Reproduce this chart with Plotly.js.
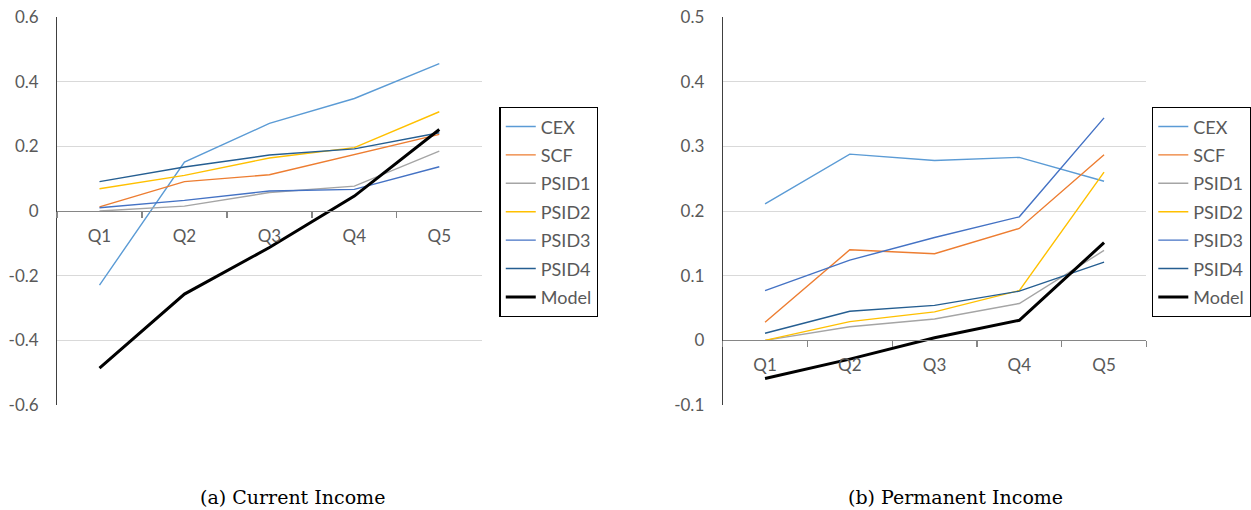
<!DOCTYPE html>
<html>
<head>
<meta charset="utf-8">
<script src="https://cdn.plot.ly/plotly-3.0.1.min.js"></script>
<style>html,body{margin:0;padding:0;background:#fff;}#chart{width:1251px;height:510px;}</style>
</head>
<body>
<div id="chart"></div>
<script>
var categories = ["Q1", "Q2", "Q3", "Q4", "Q5"];
var seriesNames = ["CEX", "SCF", "PSID1", "PSID2", "PSID3", "PSID4", "Model"];

// (a) Current Income
var curCEX   = [-0.229, 0.151, 0.271, 0.348, 0.456];
var curSCF   = [0.013, 0.091, 0.112, 0.174, 0.237];
var curPSID1 = [0.000, 0.015, 0.057, 0.077, 0.185];
var curPSID2 = [0.069, 0.110, 0.164, 0.196, 0.307];
var curPSID3 = [0.010, 0.033, 0.062, 0.067, 0.137];
var curPSID4 = [0.091, 0.136, 0.173, 0.192, 0.242];
var curModel = [-0.486, -0.257, -0.113, 0.046, 0.252];

// (b) Permanent Income
var permCEX   = [0.211, 0.288, 0.278, 0.283, 0.246];
var permSCF   = [0.028, 0.140, 0.134, 0.173, 0.287];
var permPSID1 = [0.000, 0.021, 0.033, 0.057, 0.139];
var permPSID2 = [0.000, 0.029, 0.044, 0.077, 0.260];
var permPSID3 = [0.077, 0.124, 0.159, 0.191, 0.344];
var permPSID4 = [0.011, 0.045, 0.054, 0.076, 0.121];
var permModel = [-0.059, -0.029, 0.004, 0.031, 0.151];

var leftTickVals = [-0.6, -0.4, -0.2, 0, 0.2, 0.4, 0.6];
var leftTickText = ["-0.6", "-0.4", "-0.2", "0", "0.2", "0.4", "0.6"];
var rightTickVals = [-0.1, 0, 0.1, 0.2, 0.3, 0.4, 0.5];
var rightTickText = ["-0.1", "0", "0.1", "0.2", "0.3", "0.4", "0.5"];

var captions = ["(a) Current Income", "(b) Permanent Income"];

var colors = ["#5B9BD5", "#ED7D31", "#A5A5A5", "#FFC000", "#4472C4", "#255E91", "#000000"];
var widths = [1.4, 1.4, 1.4, 1.4, 1.4, 1.4, 3];

var curData = [curCEX, curSCF, curPSID1, curPSID2, curPSID3, curPSID4, curModel];
var permData = [permCEX, permSCF, permPSID1, permPSID2, permPSID3, permPSID4, permModel];

var traces = [];
curData.forEach(function (vals, i) {
  traces.push({
    type: "scatter", mode: "lines", x: categories, y: vals, name: seriesNames[i],
    xaxis: "x", yaxis: "y", legend: "legend", legendgroup: "a" + i,
    line: {color: colors[i], width: widths[i]}
  });
});
permData.forEach(function (vals, i) {
  traces.push({
    type: "scatter", mode: "lines", x: categories, y: vals, name: seriesNames[i],
    xaxis: "x2", yaxis: "y2", legend: "legend2", legendgroup: "b" + i,
    line: {color: colors[i], width: widths[i]}
  });
});

var W = 1251, H = 510;
var yBot = (H - 405) / H, yTop = (H - 17) / H;
var tickFont = {family: "Lato, 'Open Sans', sans-serif", size: 17, color: "#595959"};

function yAxis(range, vals, text) {
  return {
    domain: [yBot, yTop], range: range, tickvals: vals, ticktext: text,
    showgrid: true, gridcolor: "#d9d9d9", gridwidth: 1,
    zeroline: false, showline: true, linecolor: "#404040", linewidth: 1,
    ticks: "", tickfont: tickFont, ticklabelstandoff: 14, fixedrange: true
  };
}
function catAxis(dom, pos) {
  return {
    domain: dom, type: "category", range: [-0.5, 4.5], anchor: "free", position: pos,
    showline: true, linecolor: "#868686", linewidth: 1.3,
    ticks: "outside", tickson: "boundaries", ticklen: 6, tickcolor: "#868686", tickwidth: 1.3,
    showgrid: false, zeroline: false, tickfont: tickFont, ticklabelstandoff: 9
  };
}

var leftDom = [58 / W, 490 / W];
var rightDom = [735 / W, 1166 / W];
var leftZeroPos = (H - 211) / H;
var rightZeroPos = (H - 340) / H;

var legendBase = function (x) {
  return {
    x: x, y: (H - 107) / H, xanchor: "left", yanchor: "top", xref: "paper", yref: "paper",
    bordercolor: "#000", borderwidth: 1.3, bgcolor: "#fff",
    font: {family: "Lato, 'Open Sans', sans-serif", size: 18, color: "#595959"},
    tracegroupgap: 2, itemwidth: 30, traceorder: "grouped"
  };
};

var capFont = {family: "'DejaVu Serif', serif", size: 19, color: "#000"};

var layout = {
  width: W, height: H, margin: {l: 0, r: 0, t: 0, b: 0},
  paper_bgcolor: "#fff", plot_bgcolor: "rgba(0,0,0,0)",
  showlegend: true,
  xaxis: catAxis(leftDom, leftZeroPos),
  yaxis: Object.assign(yAxis([-0.6, 0.6], leftTickVals, leftTickText), {anchor: "x"}),
  xaxis2: catAxis(rightDom, rightZeroPos),
  yaxis2: Object.assign(yAxis([-0.1, 0.5], rightTickVals, rightTickText), {anchor: "x2"}),
  legend: legendBase(508 / W),
  legend2: legendBase(1172 / W),
  annotations: [
    {text: captions[0], xref: "paper", yref: "paper", x: 298 / W, y: (H - 497) / H,
     xanchor: "center", yanchor: "middle", showarrow: false, font: capFont},
    {text: captions[1], xref: "paper", yref: "paper", x: 972 / W, y: (H - 497) / H,
     xanchor: "center", yanchor: "middle", showarrow: false, font: capFont}
  ]
};

Plotly.newPlot("chart", traces, layout, {staticPlot: true, displayModeBar: false});
</script>
</body>
</html>
